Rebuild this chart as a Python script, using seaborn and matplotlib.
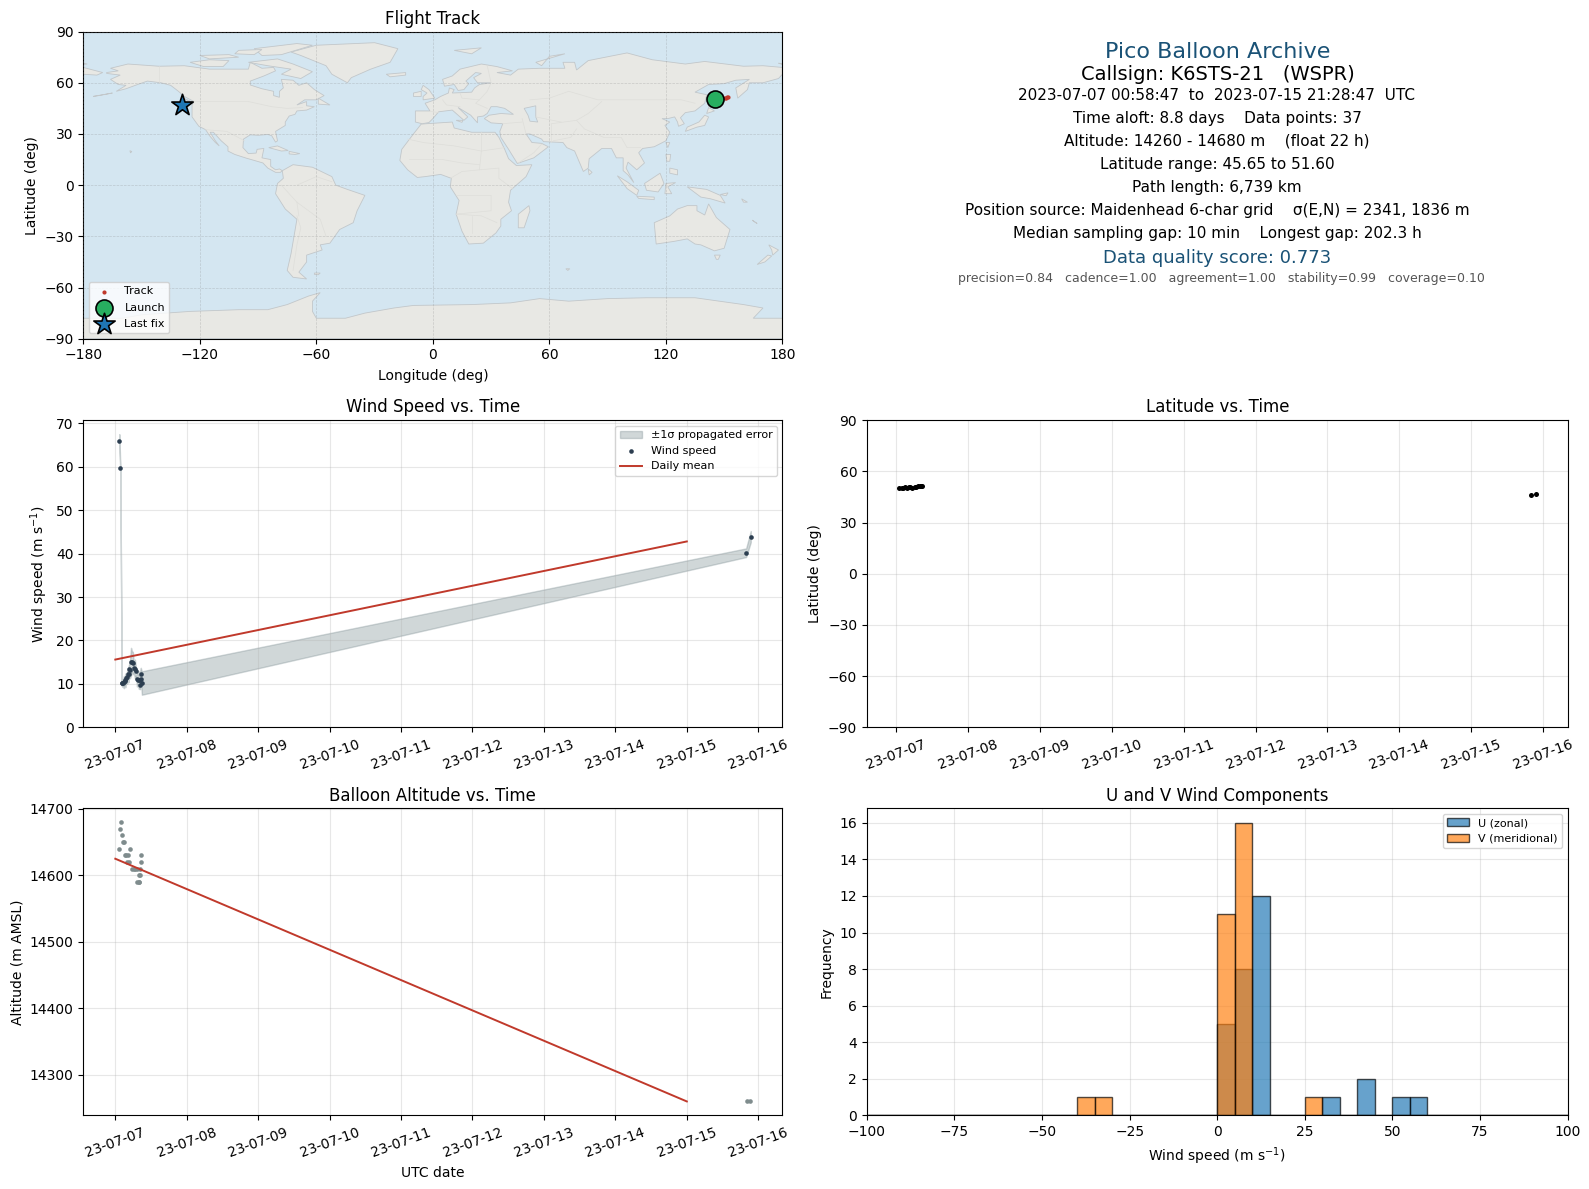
import numpy as np
import pandas as pd
import matplotlib
matplotlib.use("Agg")
import matplotlib.pyplot as plt
import matplotlib.dates as mdates
import seaborn as sns

START = pd.Timestamp("2023-07-07")

# --- wind series (days since 07-07 00:00, m/s, sigma)
wind_t = [0.056,0.070,0.090,0.100,0.110,0.120,0.130,0.140,0.155,0.165,0.175,0.185,0.195,0.205,0.220,0.233,0.245,0.260,0.275,0.288,0.303,0.315,0.327,0.340,0.350,0.357,0.365,0.372,8.830,8.895]
wind_v = [66.0,59.8,10.2,10.3,10.2,10.4,10.6,10.8,11.4,11.5,12.3,12.2,13.5,13.3,15.1,15.1,14.8,13.7,13.4,12.9,11.2,11.0,10.9,9.8,11.0,12.3,11.2,10.2,40.2,43.9]
wind_s = [1.5,0.6,0.6,1.0,0.8,1.4,0.8,1.6,0.7,1.5,1.0,1.8,1.2,2.0,3.2,2.4,2.6,1.2,2.2,1.0,1.8,1.0,2.0,1.0,2.2,1.4,2.0,2.7,1.0,1.3]
wind_mean_t = [0.0, 8.0]
wind_mean_v = [15.6, 42.8]

# --- altitude series
alt_t = [0.055,0.071,0.085,0.099,0.113,0.127,0.136,0.155,0.174,0.165,0.195,0.212,0.230,0.255,0.275,0.305,0.345,0.310,0.325,0.338,0.325,0.345,0.365,0.365,8.840,8.880]
alt_v = [14640,14670,14680,14660,14650,14650,14630,14630,14630,14620,14620,14640,14610,14610,14610,14610,14610,14590,14590,14590,14600,14600,14620,14630,14260,14260]
alt_mean_t = [0.0, 8.0]
alt_mean_v = [14625, 14260]

# --- latitude series
lat_t = [0.05,0.08,0.10,0.13,0.15,0.18,0.20,0.23,0.26,0.28,0.31,0.33,0.35,0.37,8.83,8.895]
lat_v = [50.2,50.4,50.5,50.6,50.4,50.7,50.8,50.3,50.9,51.0,51.2,51.3,51.5,51.6,46.4,47.0]

# --- track on the map
track_lon = [145.6,146.5,147.5,148.5,149.5,150.3,151.0,151.6,152.2,-129.6,-129.2]
track_lat = [50.3,50.5,50.6,50.8,50.9,51.1,51.3,51.4,51.6,46.4,47.0]
launch_lon, launch_lat = [145.2], [50.3]
last_lon, last_lat = [-129.0], [47.0]

# --- histogram bins
u_centers = [2.5,7.5,12.5,32.5,42.5,52.5,57.5]
u_counts = [5,8,12,1,2,1,1]
v_centers = [-37.5,-32.5,2.5,7.5,27.5]
v_counts = [1,1,11,16,1]
bin_edges = list(range(-100,105,5))

# --- text block
info_lines = ["2023-07-07 00:58:47  to  2023-07-15 21:28:47  UTC",
              "Time aloft: 8.8 days    Data points: 37",
              "Altitude: 14260 - 14680 m    (float 22 h)",
              "Latitude range: 45.65 to 51.60",
              "Path length: 6,739 km",
              "Position source: Maidenhead 6-char grid    σ(E,N) = 2341, 1836 m",
              "Median sampling gap: 10 min    Longest gap: 202.3 h"]

# --- simplified coastlines (lon, lat)
north_america = [(-168,66),(-162,67),(-166,68.5),(-157,71),(-141,69.7),(-128,70),(-115,68),(-108,68),(-95,68),(-94,72),(-88,68.5),(-82,69),(-81,67),(-87,64),(-94,61),(-94,58.7),(-88,56.5),(-82,55),(-82,52.5),(-79,51.5),(-79,55),(-77,57),(-78,62),(-72,61.5),(-69,58.5),(-65,60),(-61,56),(-56,52.5),(-60,50),(-66,50),(-70,47),(-65,49),(-65,46.5),(-61,46),(-65,44),(-70,43.5),(-71,41.5),(-74,40.5),(-76,37),(-76,35),(-81,31.5),(-80,26),(-81,25.2),(-83,29),(-85,29.7),(-90,29.2),(-94,29.5),(-97.5,27),(-97.8,22),(-95,18.5),(-91,18.8),(-90.5,21),(-87,21.5),(-88,16),(-83.5,15),(-83.5,11),(-81,9),(-79,9.5),(-77.5,8.5),(-78.5,7.5),(-81,7.5),(-85,10),(-87.5,13),(-92,14.5),(-96,15.8),(-102,18),(-105.5,20),(-105.5,22.5),(-109,26),(-113,31),(-114.7,31),(-112,26),(-110,23),(-112,25),(-115,29),(-117,32.5),(-120.5,34.5),(-124,40),(-124,47),(-123,49),(-128,52),(-131,55),(-135,58.5),(-140,60),(-147,61),(-152,59),(-158,56.5),(-163,55),(-158,58.5),(-162,59),(-166,62),(-161,64.5),(-168,65.5)]
south_america = [(-77.5,8.5),(-72,12),(-62,10.5),(-52,5),(-50,0),(-44,-2.5),(-35,-6),(-39,-15),(-41,-22),(-48,-26),(-53,-34),(-58,-35),(-57,-38),(-65,-41),(-65,-45),(-69,-51),(-65,-55),(-72,-54),(-75,-50),(-73,-40),(-70,-20),(-76,-14),(-81,-5),(-80,1),(-77,4)]
greenland = [(-73,78),(-60,82),(-30,83.5),(-18,80),(-22,72),(-32,68),(-42,63),(-44,60),(-52,65),(-55,70),(-68,76)]
africa = [(-6,35.8),(10,37),(11,33.5),(20,31),(32,31),(34,28),(37,21),(39,15.5),(43,11.5),(51,12),(48,5),(40,-3),(39,-10),(40.5,-15),(35,-20),(35,-24),(32.5,-28),(26,-34),(18.5,-34.5),(15,-27),(12,-17),(13.5,-9),(9,-1),(9.5,4),(4,6.3),(-4,5),(-8,4.5),(-13,9),(-17,14.5),(-16,21),(-10,30)]
eurasia = [(5,62),(10,64),(14,68),(25,71),(33,69.5),(41,67),(33,66),(40,64.5),(44,68),(55,68.5),(68,68.5),(67,72),(73,72),(74,67.5),(80,73),(100,77.5),(113,73.5),(130,71),(140,72.5),(160,69.7),(170,70),(180,69),(180,65),(178,62.5),(170,60),(163,60),(162,56),(157,51),(156,57),(163,62),(156,61.5),(150,59.5),(142,59),(135,54.5),(141,53),(140,48),(135,43.5),(130,42.5),(127.5,39.5),(129.5,36),(126.5,34.5),(126,37),(124.5,40),(121,39),(118,39),(122,37),(119.5,35),(122,31),(120,26),(114,22.5),(108,21.5),(106,19),(109,13),(105,9),(100.5,13.5),(99.5,10),(103.5,1.5),(100.5,6),(98,8.5),(98,16),(94.5,16),(92,21.5),(87,21.5),(80.5,15.5),(80,10),(77.5,8),(73,20),(69,22),(67,25),(57,25.5),(56,27),(50,30),(48,30),(51,25),(56,24.5),(59.5,22.5),(52,16),(43.5,12.7),(39,21),(35,28),(34.5,31.5),(36,36),(30,36.5),(26.5,39),(29,41),(35,42),(41.5,41.5),(37,45),(33,46),(30,46),(28,42),(26,40.5),(23,40),(23,36.5),(19.5,41),(13,45.5),(18,40),(16,38),(10,44),(3,43),(0,39),(-2,36.7),(-5.5,36),(-9,37),(-9,43.5),(-1.5,43.5),(-4,48),(1,50),(4,52),(8,54),(8.5,57),(11,56),(10,54),(20,54.5),(21.5,57),(24,59),(30,60),(23,60),(21,63),(25,65.5),(22,66),(17,61),(18.5,59.5),(16,56),(13,55.5),(11,59),(6,58)]
chukotka = [(-180,69),(-175,67.5),(-170,66),(-173,64.5),(-180,65)]
australia = [(114,-22),(122,-18),(126,-14),(131,-12),(136,-12),(136,-15),(140,-17.5),(142,-11),(146,-19),(153,-26),(150,-37),(145,-38.5),(138,-35),(135,-34.5),(131,-31.5),(124,-33),(115,-34.5)]
antarctica = [(-180,-78),(-160,-78),(-150,-76),(-125,-74),(-100,-73),(-85,-73),(-75,-70),(-64,-65),(-58,-63),(-62,-68),(-62,-74),(-60,-78),(-45,-78),(-35,-75),(-20,-72),(-10,-70.5),(20,-70),(40,-69),(55,-66.5),(70,-68),(90,-66.5),(110,-66),(135,-66),(160,-70),(170,-72),(165,-78),(180,-78),(180,-90),(-180,-90)]
islands = [
 [(-5,50),(1,51),(-2,56),(-5,58.5),(-6,56),(-3,54),(-5,52)],
 [(-10,52),(-6,52),(-6,55),(-10,54)],
 [(-24,65),(-14,66),(-14,64.5),(-22,63.5)],
 [(44,-25),(47,-25),(50,-15),(49.5,-12),(44,-17)],
 [(130,31.5),(136,34),(140,35),(142,40),(140,41),(137,37),(131,34)],
 [(141,42),(145,43.5),(142,45.5)],
 [(142,46),(143.5,49),(142.5,54),(142,50)],
 [(95,5.5),(100,2),(106,-3),(105,-6),(100,-2)],
 [(105,-6.5),(114,-7),(114,-8.5),(106,-7.8)],
 [(109,1),(117,7),(119,1),(116,-4),(110,-3)],
 [(119.5,-5),(120,1),(125,1.5),(121,-1),(123,-5)],
 [(131,-1),(141,-2.5),(148,-6),(150.5,-10.5),(143,-8),(138,-7)],
 [(120,18),(122.5,18),(122,14),(120.5,14)],
 [(122,10),(126,9),(126,6),(122,7)],
 [(172.5,-41),(174.5,-41.5),(171,-45),(167,-46.5)],
 [(173,-35),(178,-38),(175,-41),(174.5,-38)],
 [(145,-41),(148,-41),(147,-43.5),(146,-43.5)],
 [(-84.5,22),(-80,23),(-74.5,20.3),(-78,20)],
 [(-74,19.8),(-68.5,18.5),(-71,18),(-74,18.3)],
 [(-125,49),(-123.5,48.5),(-128,50.7)],
 [(-61,-51.5),(-58,-51.5),(-59,-52.5),(-61,-52.3)],
 [(-156,20.2),(-155,19.7),(-155.7,18.9)],
 [(80,9.5),(82,7.5),(80.5,6)],
 [(120,25),(122,25),(121,22)],
 [(12,38),(15.5,38),(15,36.8)],
 [(56,70),(53,72),(68,77),(60,75.5)],
 [(11,79),(25,80.5),(20,77)],
 [(-125,72),(-115,73.5),(-105,73),(-108,69.5),(-118,69.5)],
 [(-95,72),(-80,74),(-72,71),(-62,66.5),(-68,62.5),(-78,65),(-73,68),(-85,70)],
 [(-92,80),(-70,83),(-62,82),(-78,76.5),(-88,76)],
 [(-120,76),(-105,76.5),(-100,75),(-115,74)],
 [(-100,79),(-88,79.5),(-92,76.5),(-102,77)],
 [(-59,51),(-53,47),(-59,47.5)],
 [(-180,71.5),(-178,71),(-180,70.8)],
 [(178,71.5),(180,71),(180,70.8)],
 [(-175,52),(-165,54),(-172,52.5)],
 [(68.5,-49),(70.5,-49),(69.5,-50)],
 [(148,-5.5),(152,-4.5),(151,-6.2)],
 [(159,-8),(162,-10),(160,-10)],
 [(165,-21),(167,-22.5),(164.5,-20.5)],
]
caspian = [(47,45),(53,46.5),(53,40),(54,37),(50,37.5),(49,41)]
borders = [
 [(-141,69.7),(-141,60)],[(-123,49),(-95,49),(-83,46),(-75,45),(-67,45.5)],[(-117,32.5),(-106,31.5),(-97,26)],
 [(-70,-18),(-68,-25),(-70,-35),(-72,-50)],[(-70,-10),(-58,-20),(-55,-30)],[(-70,0),(-60,5),(-52,2)],[(-78,0),(-70,-10),(-69,-18)],
 [(-13,27),(-5,25),(11,23),(25,20),(37,22)],[(25,31),(25,20),(24,9),(34,10),(34,4),(41,-2)],[(-12,15),(5,15),(15,13),(24,12)],[(9,4),(15,8),(24,9)],[(12,-6),(30,-6),(30,-15),(12,-17)],[(12,-17),(25,-18),(33,-22)],[(20,-28),(20,-18)],
 [(28,70),(30,60),(28,55),(24,50),(22,48),(28,45)],[(5,50),(7,47),(14,46)],[(-1.5,43.3),(3,42.5)],[(14,54),(15,51),(24,50)],
 [(50,50),(60,51),(70,55),(85,50),(98,50),(117,50),(128,50),(135,48)],[(87,49),(80,42),(74,38),(78,33),(88,28),(97,28),(100,22),(107,22)],[(46,39),(48,30)],[(61,36),(61,25)],[(61,36),(74,38)],[(66,37),(53,40)],[(36,36),(46,37)],[(35,30),(48,30)],[(44,13),(52,19),(56,24)],[(62,26),(71,28),(74,33)],
]

fig = plt.figure(figsize=(15.89, 11.89), dpi=100)
W, H = 1589.0, 1189.0


def make_ax(x0, x1, y0, y1):
    return fig.add_axes([x0 / W, 1 - y1 / H, (x1 - x0) / W, (y1 - y0) / H])


XL, XR = 83.3, 782.4
XL2, XR2 = 866.9, 1567.6
Y1, Y2 = (31.6, 338.7), (420.3, 727.3)
Y3 = (808.2, 1115.4)

ax_map = make_ax(XL, XR, *Y1)
ax_info = make_ax(XL2, XR2, *Y1)
ax_wind = make_ax(XL, XR, *Y2)
ax_lat = make_ax(XL2, XR2, *Y2)
ax_alt = make_ax(XL, XR, *Y3)
ax_hist = make_ax(XL2, XR2, *Y3)

NAVY = "#2c3e50"
RED = "#c0392b"
GRAY = "#7f8c8d"
TITLE_BLUE = "#1a5276"


def to_dates(days):
    return START + pd.to_timedelta(np.asarray(days, dtype=float), unit="D")


# ---------- map
ax_map.set_facecolor("#d4e6f1")
lands = [north_america, south_america, greenland, africa, eurasia, chukotka, australia, antarctica] + islands
for poly in lands:
    xs, ys = zip(*poly)
    ax_map.fill(xs, ys, facecolor="#e8e8e4", edgecolor="#c2c7ca", linewidth=0.6, zorder=1)
xs, ys = zip(*caspian)
ax_map.fill(xs, ys, facecolor="#d4e6f1", edgecolor="#c2c7ca", linewidth=0.6, zorder=1.1)
for line in borders:
    xs, ys = zip(*line)
    ax_map.plot(xs, ys, color="#dededa", linewidth=0.5, zorder=1.2)
sns.scatterplot(x=track_lon, y=track_lat, ax=ax_map, color=RED, s=9, linewidth=0, label="Track", zorder=4)
sns.scatterplot(x=launch_lon, y=launch_lat, ax=ax_map, color="#27ae60", s=150, marker="o", edgecolor="black", linewidth=1.2, label="Launch", zorder=5)
sns.scatterplot(x=last_lon, y=last_lat, ax=ax_map, color="#1f77b4", s=260, marker="*", edgecolor="black", linewidth=1.2, label="Last fix", zorder=5)
ax_map.set_xlim(-180, 180)
ax_map.set_ylim(-90, 90)
ax_map.set_xticks(range(-180, 181, 60))
ax_map.set_yticks(range(-90, 91, 30))
ax_map.grid(True, color="gray", linestyle="--", linewidth=0.5, alpha=0.3, zorder=2)
ax_map.set_axisbelow(False)
ax_map.set_xlabel("Longitude (deg)", labelpad=5)
ax_map.set_ylabel("Latitude (deg)")
ax_map.set_title("Flight Track", fontsize=12, pad=5.7)
ax_map.legend(loc="lower left", fontsize=8, framealpha=0.8, labelspacing=0.55)

# ---------- info panel
ax_info.axis("off")
ax_info.set_xlim(0, 1)
ax_info.set_ylim(0, 1)
CX = (1217.0 - XL2) / (XR2 - XL2)


def put(ypix, text, cx=CX, **kw):
    ax_info.text(cx, 1 - (ypix - Y1[0]) / (Y1[1] - Y1[0]), text, ha="center", va="center", **kw)


put(52, "Pico Balloon Archive", cx=CX + 1 / (XR2 - XL2), fontsize=16, color=TITLE_BLUE)
put(74, "Callsign: K6STS-21   (WSPR)", cx=CX + 1 / (XR2 - XL2), fontsize=14, color="black")
for i, line in enumerate(info_lines):
    put(95.3 + i * 23.0, line, fontsize=11, color="black")
put(258, "Data quality score: 0.773", fontsize=13, color=TITLE_BLUE)
put(278.5, "precision=0.84   cadence=1.00   agreement=1.00   stability=0.99   coverage=0.10", cx=CX + 4 / (XR2 - XL2), fontsize=9, color="#555555")

# ---------- time axes helper
XMIN, XMAX = to_dates([-0.448])[0], to_dates([9.338])[0]
XMIN_LAT = to_dates([-0.402])[0]


def style_time(ax, title, ylabel, xmin=XMIN):
    ax.set_xlim(xmin, XMAX)
    ax.xaxis.set_major_locator(mdates.DayLocator())
    ax.xaxis.set_major_formatter(mdates.DateFormatter("%y-%m-%d"))
    ax.tick_params(axis="x", labelrotation=20)
    ax.grid(True, alpha=0.3)
    ax.set_title(title, fontsize=12, pad=5.5)
    ax.set_ylabel(ylabel)
    ax.set_xlabel("")


# ---------- wind
wd = to_dates(wind_t)
wv = np.array(wind_v)
ws = np.array(wind_s)
ax_wind.fill_between(wd, wv - ws, wv + ws, color="#7f9094", alpha=0.36, linewidth=1.0, label="±1σ propagated error")
sns.scatterplot(x=wd, y=wind_v, ax=ax_wind, color=NAVY, s=11, linewidth=0, label="Wind speed", zorder=3)
sns.lineplot(x=to_dates(wind_mean_t), y=wind_mean_v, ax=ax_wind, color=RED, linewidth=1.4, label="Daily mean", zorder=4, errorbar=None)
style_time(ax_wind, "Wind Speed vs. Time", "Wind speed (m s$^{-1}$)")
ax_wind.set_title("Wind Speed vs. Time", fontsize=12, pad=6)
ax_wind.set_ylim(0, 70.7)
ax_wind.set_yticks(range(0, 71, 10))
ax_wind.legend(loc="upper right", fontsize=8)

# ---------- latitude
sns.scatterplot(x=to_dates(lat_t), y=lat_v, ax=ax_lat, color="black", s=13, linewidth=0, zorder=3)
style_time(ax_lat, "Latitude vs. Time", "Latitude (deg)", xmin=XMIN_LAT)
ax_lat.set_title("Latitude vs. Time", fontsize=12, pad=6)
ax_lat.set_ylim(-90, 90)
ax_lat.set_yticks(range(-90, 91, 30))

# ---------- altitude
sns.scatterplot(x=to_dates(alt_t), y=alt_v, ax=ax_alt, color=GRAY, s=11, linewidth=0, zorder=3)
sns.lineplot(x=to_dates(alt_mean_t), y=alt_mean_v, ax=ax_alt, color=RED, linewidth=1.4, zorder=4, errorbar=None)
style_time(ax_alt, "Balloon Altitude vs. Time", "Altitude (m AMSL)")
ax_alt.set_xlabel("UTC date", labelpad=4.3)
ax_alt.set_ylim(14239, 14701)
ax_alt.set_yticks(range(14300, 14701, 100))

# ---------- histogram
sns.histplot(x=u_centers, weights=u_counts, bins=bin_edges, ax=ax_hist, color="#1f77b4", edgecolor="black", linewidth=1.0, label="U (zonal)")
sns.histplot(x=v_centers, weights=v_counts, bins=bin_edges, ax=ax_hist, color="#ff7f0e", edgecolor="black", linewidth=1.0, label="V (meridional)")
for patch in ax_hist.patches:
    patch.set_alpha(0.68)
ax_hist.set_xlim(-100, 100)
ax_hist.set_ylim(0, 16.8)
ax_hist.set_yticks(range(0, 17, 2))
ax_hist.set_axisbelow(True)
ax_hist.grid(True, alpha=0.3)
ax_hist.set_title("U and V Wind Components", fontsize=12, pad=5.5)
ax_hist.set_xlabel("Wind speed (m s$^{-1}$)", labelpad=4.3)
ax_hist.set_ylabel("Frequency")
ax_hist.legend(loc="upper right", fontsize=8)

fig.savefig("out.png", dpi=100)
